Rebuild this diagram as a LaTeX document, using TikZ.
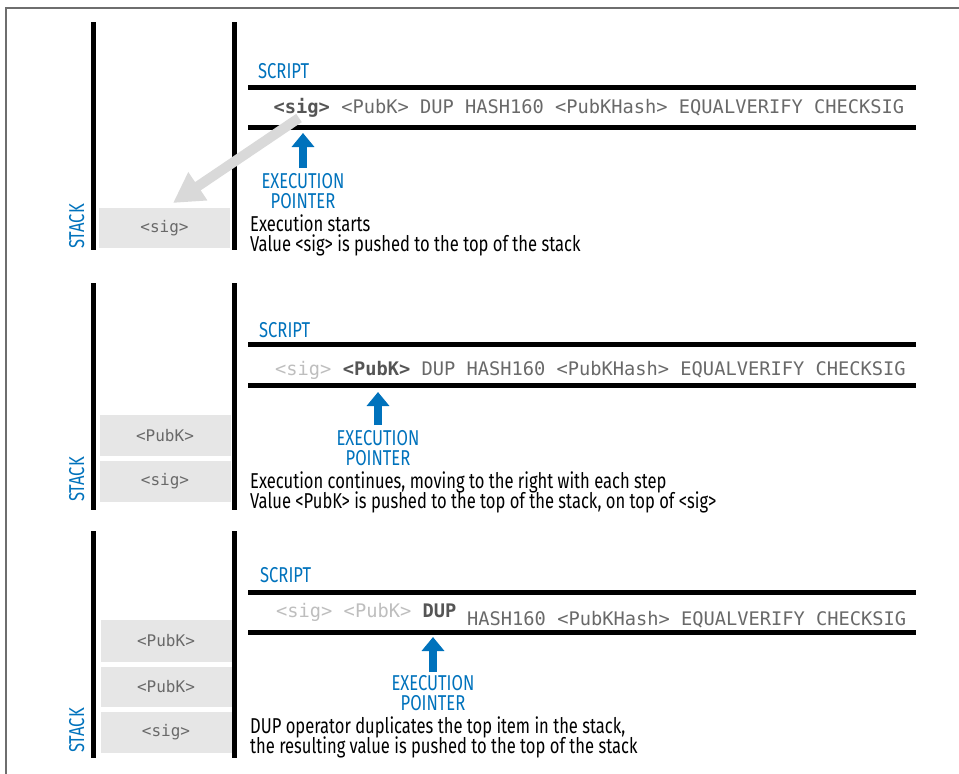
\documentclass[tikz,border=0pt]{standalone}
\usepackage{fontspec}
\usetikzlibrary{arrows.meta}
\newfontfamily\capfont[FakeStretch=0.77]{Fira Sans}
\newfontfamily\codefont{DejaVu Sans Mono}
\definecolor{oblue}{RGB}{0,114,188}
\definecolor{boxgray}{RGB}{230,230,230}
\definecolor{codegray}{RGB}{105,105,105}
\definecolor{boldgray}{RGB}{85,85,85}
\definecolor{fadegray}{RGB}{190,190,190}
\definecolor{arrowgray}{RGB}{217,217,217}
\definecolor{framegray}{RGB}{110,110,110}
\tikzset{
  bar/.style={line width=5pt, black},
  scriptline/.style={line width=5pt, black},
  stackbox/.style={fill=boxgray, draw=none, minimum width=131pt, inner sep=0pt, text=codegray, font=\codefont\fontsize{16}{16}\selectfont},
  bluelbl/.style={text=oblue, inner sep=0pt, font=\capfont\fontsize{21.5}{21.5}\selectfont},
  captxt/.style={text=black, inner sep=0pt, anchor=base west, text height=13pt, text depth=4pt, font=\capfont\fontsize{21.5}{21.5}\selectfont},
  codetxt/.style={text=codegray, inner sep=0pt, anchor=base west, font=\codefont\fontsize{18.7}{19}\selectfont},
  ptr/.style={draw=oblue, line width=8pt, -{Triangle[length=14pt,width=22pt]}},
  pusharrow/.style={draw=arrowgray, line width=10pt, -{Triangle[length=30pt,width=32pt]}},
  frameline/.style={draw=framegray, line width=1.3pt}
}
\begin{document}
\begin{tikzpicture}[x=1pt,y=-1pt]
\useasboundingbox (0,0) rectangle (959,774);
% frame
\coordinate (fa) at (6,774);
\coordinate (fb) at (6,8);
\coordinate (fc) at (959,8);
\draw[frameline] (fa) -- (fb) -- (fc);

% ================= Panel 1 =================
\coordinate (b1a) at (93,22);  \coordinate (b1b) at (93,250);
\coordinate (b1c) at (234,22); \coordinate (b1d) at (234,250);
\draw[bar] (b1a) -- (b1b);
\draw[bar] (b1c) -- (b1d);
\node[stackbox, minimum height=40pt] (s1a) at (164.5,228) {<sig>};
\node[bluelbl, rotate=90, anchor=base west] (stk1) at (84,249) {STACK};
\node[bluelbl, anchor=base west] (scr1) at (258,78) {SCRIPT};
\coordinate (l1a) at (248,87);  \coordinate (l1b) at (916,87);
\coordinate (l1c) at (248,127); \coordinate (l1d) at (916,127);
\draw[scriptline] (l1a) -- (l1b);
\draw[scriptline] (l1c) -- (l1d);
\node[codetxt] (t1) at (273.5,113) {\textbf{\color{boldgray}<sig>} <PubK> DUP HASH160 <PubKHash> EQUALVERIFY CHECKSIG};
\node[bluelbl, anchor=base] (ex1) at (303,188) {EXECUTION};
\node[bluelbl, anchor=base] (po1) at (303,208) {POINTER};
\coordinate (p1s) at (303,168); \coordinate (p1e) at (303,133);
\draw[ptr] (p1s) -- (p1e);
\node[captxt] (c1a) at (250,231) {Execution starts};
\node[captxt] (c1b) at (250,251.5) {Value <sig> is pushed to the top of the stack};
\coordinate (g1s) at (299,118); \coordinate (g1e) at (173,203);
\draw[pusharrow] (g1s) -- (g1e);

% ================= Panel 2 =================
\coordinate (b2a) at (93,283);  \coordinate (b2b) at (93,510);
\coordinate (b2c) at (234,283); \coordinate (b2d) at (234,510);
\draw[bar] (b2a) -- (b2b);
\draw[bar] (b2c) -- (b2d);
\node[stackbox, minimum height=41pt] (s2b) at (165,435.5) {<PubK>};
\node[stackbox, minimum height=41pt] (s2a) at (165,481.5) {<sig>};
\node[bluelbl, rotate=90, anchor=base west] (stk2) at (84,502) {STACK};
\node[bluelbl, anchor=base west] (scr2) at (259,337) {SCRIPT};
\coordinate (l2a) at (248,344);  \coordinate (l2b) at (916,344);
\coordinate (l2c) at (248,385); \coordinate (l2d) at (916,385);
\draw[scriptline] (l2a) -- (l2b);
\draw[scriptline] (l2c) -- (l2d);
\node[codetxt] (t2) at (275,375) {{\color{fadegray}<sig>} \textbf{\color{boldgray}<PubK>} DUP HASH160 <PubKHash> EQUALVERIFY CHECKSIG};
\node[bluelbl, anchor=base] (ex2) at (378,445) {EXECUTION};
\node[bluelbl, anchor=base] (po2) at (378,465) {POINTER};
\coordinate (p2s) at (378,425); \coordinate (p2e) at (378,392);
\draw[ptr] (p2s) -- (p2e);
\node[captxt] (c2a) at (250,488) {Execution continues, moving to the right with each step};
\node[captxt] (c2b) at (250,508) {Value <PubK> is pushed to the top of the stack, on top of <sig>};

% ================= Panel 3 =================
\coordinate (b3a) at (93,531);  \coordinate (b3b) at (93,758);
\coordinate (b3c) at (234,531); \coordinate (b3d) at (234,758);
\draw[bar] (b3a) -- (b3b);
\draw[bar] (b3c) -- (b3d);
\node[stackbox, minimum height=42pt] (s3c) at (166,641) {<PubK>};
\node[stackbox, minimum height=40pt] (s3b) at (166,687) {<PubK>};
\node[stackbox, minimum height=41pt] (s3a) at (166,732.5) {<sig>};
\node[bluelbl, rotate=90, anchor=base west] (stk3) at (84,753) {STACK};
\node[bluelbl, anchor=base west] (scr3) at (260,582) {SCRIPT};
\coordinate (l3a) at (248,592);  \coordinate (l3b) at (916,592);
\coordinate (l3c) at (248,632); \coordinate (l3d) at (916,632);
\draw[scriptline] (l3a) -- (l3b);
\draw[scriptline] (l3c) -- (l3d);
\node[codetxt] (t3a) at (276,617) {{\color{fadegray}<sig> <PubK>} \textbf{\color{boldgray}DUP}};
\node[codetxt] (t3b) at (467,625) {HASH160 <PubKHash> EQUALVERIFY CHECKSIG};
\node[bluelbl, anchor=base] (ex3) at (433,690) {EXECUTION};
\node[bluelbl, anchor=base] (po3) at (433,710) {POINTER};
\coordinate (p3s) at (433,672); \coordinate (p3e) at (433,637);
\draw[ptr] (p3s) -- (p3e);
\node[captxt] (c3a) at (250,733) {DUP operator duplicates the top item in the stack,};
\node[captxt] (c3b) at (250,753) {the resulting value is pushed to the top of the stack};
\end{tikzpicture}
\end{document}
